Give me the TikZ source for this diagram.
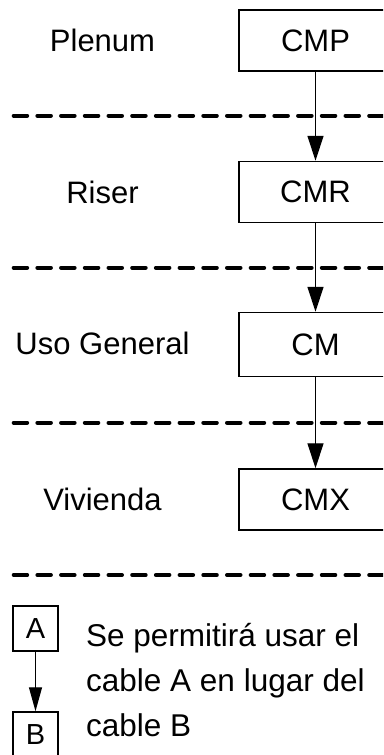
\documentclass[tikz,border=0pt]{standalone}
\usepackage{fontspec}
\setmainfont{Liberation Sans}
\usetikzlibrary{arrows.meta}
\begin{document}
\begin{tikzpicture}[x=1pt,y=-1pt,
  cable/.style={draw, line width=1.5pt, minimum width=153pt, minimum height=61pt,
    inner sep=0pt, font=\fontsize{31}{37}\selectfont},
  lbl/.style={font=\fontsize{31}{37}\selectfont, inner sep=0pt},
  legbox/.style={draw, line width=1.5pt, minimum width=45pt, minimum height=45pt,
    inner sep=0pt, font=\fontsize{29}{35}\selectfont},
  sep/.style={line width=4pt, line cap=round, dash pattern=on 13.5pt off 10.2pt},
  conn/.style={line width=1.3pt, -{Triangle[length=25pt,width=16pt]}},
  legconn/.style={line width=1.3pt, -{Triangle[length=24pt,width=13pt]}},
]
\useasboundingbox (0,0) rectangle (383,755);
\clip (0,0) rectangle (383,755);
\fill[white] (0,0) rectangle (383,755);
\foreach \y in {115.7,267.7,422.7,575} \draw[sep] (13.7,\y) -- (395,\y);
% boxes
\node[cable] (cmp) at (315.5,40.5) {CMP};
\node[cable] (cmr) at (315.5,192) {CMR};
\node[cable, minimum height=64pt] (cm) at (315.5,344.5) {CM};
\node[cable] (cmx) at (315.5,499.5) {CMX};
% labels
\node[lbl] (lplenum) at (102.5,40.5) {Plenum};
\node[lbl] (lriser) at (102.5,192) {Riser};
\node[lbl] (luso) at (102.5,343.5) {Uso General};
\node[lbl] (lviv) at (102.5,499.5) {Vivienda};
% connectors
\draw[conn] (cmp.south) -- (cmr.north);
\draw[conn] (cmr.south) -- (cm.north);
\draw[conn] (cm.south) -- (cmx.north);
% legend
\node[legbox] (la) at (35.5,628.5) {A};
\node[legbox] (lb) at (35.5,734.5) {B};
\draw[legconn] (la.south) -- (lb.north);
\node[anchor=base west, inner sep=0pt, align=left,
  font=\fontsize{31.5}{45}\selectfont] (legtext) at (86,736.7)
  {Se permitirá usar el\\cable A en lugar del\\cable B};
\end{tikzpicture}
\end{document}
